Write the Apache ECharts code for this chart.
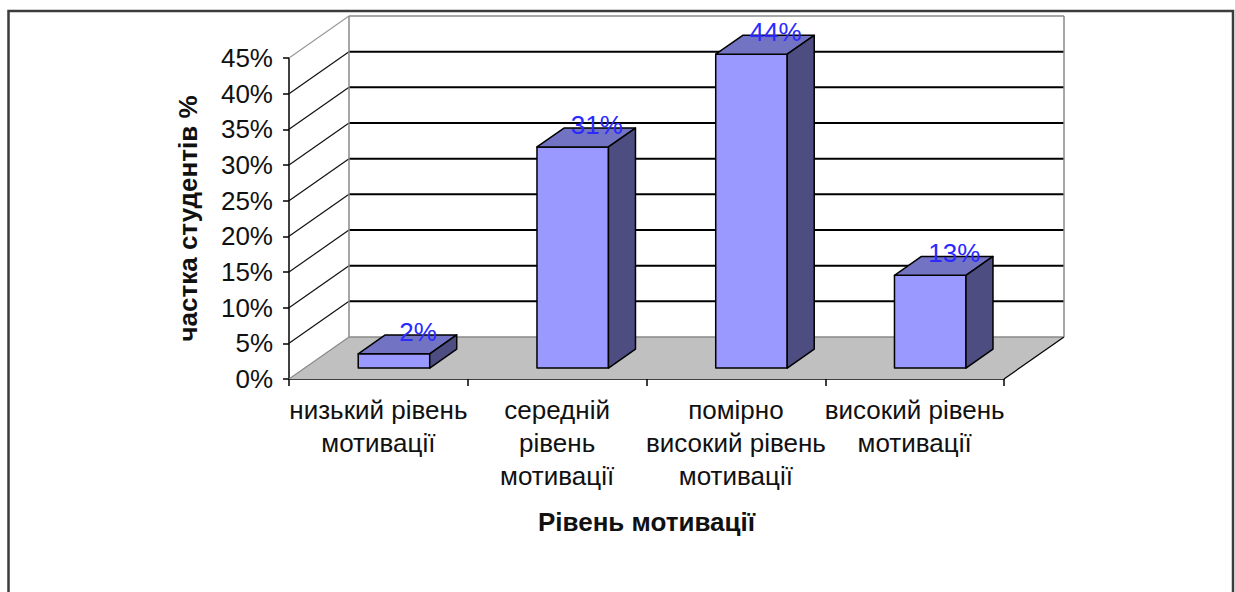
<!DOCTYPE html>
<html>
<head>
<meta charset="utf-8">
<script src="https://cdn.jsdelivr.net/npm/echarts@6/dist/echarts.min.js"></script>
<style>
  html, body { margin: 0; padding: 0; background: #fff; }
  #chart { width: 1235px; height: 592px; }
</style>
</head>
<body>
<div id="chart"></div>
<script>
var categories = [
  'низький рівень\nмотивації',
  'середній\nрівень\nмотивації',
  'помірно\nвисокий рівень\nмотивації',
  'високий рівень\nмотивації'
];
var shares = [2, 31, 44, 13];
var yTicks = [0, 5, 10, 15, 20, 25, 30, 35, 40, 45];

// depth of the fake 3d box
var DX = 60, DY = -42;
var BAR_FRONT = 0.26, BAR_BACK = 0.71;
var FONT = "'Liberation Sans', Arial, sans-serif";

var chart = echarts.init(document.getElementById('chart'), null, {renderer: 'svg'});

function renderWalls(params, api) {
  var v = api.value(1);
  var cs = params.coordSys;
  var left = cs.x, right = cs.x + cs.width;
  var y = api.coord([0, v])[1];
  var items = [];
  if (v === 0) {
    items.push({
      type: 'polygon',
      shape: {points: [[left, y], [right, y], [right + DX, y + DY], [left + DX, y + DY]]},
      style: {fill: '#c0c0c0', stroke: null}
    });
    items.push({type: 'line', shape: {x1: left + DX, y1: y + DY, x2: right + DX, y2: y + DY},
      style: {stroke: '#8a8a8a', lineWidth: 1.5}});
    items.push({type: 'line', shape: {x1: left, y1: y, x2: left + DX, y2: y + DY},
      style: {stroke: '#8a8a8a', lineWidth: 1.2}});
    items.push({type: 'line', shape: {x1: right, y1: y, x2: right + DX, y2: y + DY},
      style: {stroke: '#000', lineWidth: 1.2}});
  } else {
    var top = v === 45;
    items.push({type: 'line', shape: {x1: left + DX, y1: y + DY, x2: right + DX, y2: y + DY},
      style: {stroke: top ? '#8a8a8a' : '#000', lineWidth: top ? 1.5 : 2}});
    items.push({type: 'line', shape: {x1: left, y1: y, x2: left + DX, y2: y + DY},
      style: {stroke: top ? '#9a9a9a' : '#111', lineWidth: 1.2}});
    if (top) {
      var y0 = api.coord([0, 0])[1];
      items.push({type: 'line', shape: {x1: left + DX, y1: y + DY, x2: left + DX, y2: y0 + DY},
        style: {stroke: '#8a8a8a', lineWidth: 1.5}});
      items.push({type: 'line', shape: {x1: right + DX, y1: y + DY, x2: right + DX, y2: y0 + DY},
        style: {stroke: '#8a8a8a', lineWidth: 1.5}});
    }
  }
  return {type: 'group', children: items};
}

function renderBar(params, api) {
  var i = api.value(0), v = api.value(1);
  var base = api.coord([i, 0]);
  var top = api.coord([i, v]);
  var bw = api.size([1, 0])[0] * 0.4;
  var x0 = base[0] - bw / 2 + DX * BAR_FRONT;
  var x1 = x0 + bw;
  var yb = base[1] + DY * BAR_FRONT;
  var yt = top[1] + DY * BAR_FRONT;
  var ddx = DX * (BAR_BACK - BAR_FRONT), ddy = DY * (BAR_BACK - BAR_FRONT);
  var edge = {stroke: '#000', lineWidth: 1.5, lineJoin: 'round'};
  return {
    type: 'group',
    children: [
      {type: 'rect', shape: {x: x0, y: yt, width: bw, height: yb - yt},
        style: Object.assign({fill: '#9999ff'}, edge)},
      {type: 'polygon', shape: {points: [[x0, yt], [x1, yt], [x1 + ddx, yt + ddy], [x0 + ddx, yt + ddy]]},
        style: Object.assign({fill: '#7373c4'}, edge)},
      {type: 'polygon', shape: {points: [[x1, yt], [x1 + ddx, yt + ddy], [x1 + ddx, yb + ddy], [x1, yb]]},
        style: Object.assign({fill: '#4d4d82'}, edge)},
      {type: 'text', x: x0 + bw / 2 + ddx - 3, y: yt + ddy - 3,
        style: {text: v + '%', fill: '#2a2aff', font: '26px ' + FONT, align: 'center', verticalAlign: 'middle'}}
    ]
  };
}

chart.setOption({
  backgroundColor: '#fff',
  animation: false,
  graphic: [{
    type: 'rect', shape: {x: 8.5, y: 11, width: 1224.5, height: 700},
    style: {fill: null, stroke: '#3c3c3c', lineWidth: 2.5}, silent: true
  }],
  grid: {left: 289, right: 231, top: 58, bottom: 213},
  xAxis: {
    type: 'category',
    data: categories,
    name: 'Рівень мотивації',
    nameLocation: 'middle',
    nameGap: 130,
    nameTextStyle: {fontSize: 26, fontWeight: 'bold', color: '#111', fontFamily: FONT},
    axisLine: {lineStyle: {color: '#000', width: 1.5}},
    axisTick: {show: true, length: 7, interval: 0, lineStyle: {color: '#000', width: 1.5}},
    axisLabel: {interval: 0, fontSize: 26, lineHeight: 33, margin: 14, color: '#111', fontFamily: FONT},
    splitLine: {show: false}
  },
  yAxis: {
    type: 'value',
    min: 0, max: 45, interval: 5,
    name: 'частка студентів %',
    nameLocation: 'middle',
    nameGap: 88,
    nameTextStyle: {fontSize: 26, fontWeight: 'bold', color: '#111', fontFamily: FONT},
    axisLine: {show: true, lineStyle: {color: '#000', width: 1.5}},
    axisTick: {show: true, length: 6, lineStyle: {color: '#000', width: 1.5}},
    axisLabel: {formatter: '{value}%', fontSize: 26, margin: 16, color: '#111', fontFamily: FONT},
    splitLine: {show: false}
  },
  series: [
    {
      type: 'custom',
      name: 'walls',
      z: 1,
      silent: true,
      renderItem: renderWalls,
      encode: {x: 0, y: 1},
      data: yTicks.map(function (t) { return [0, t]; })
    },
    {
      type: 'custom',
      name: 'частка',
      z: 3,
      renderItem: renderBar,
      encode: {x: 0, y: 1},
      data: shares.map(function (s, i) { return [i, s]; })
    }
  ]
});
</script>
</body>
</html>
